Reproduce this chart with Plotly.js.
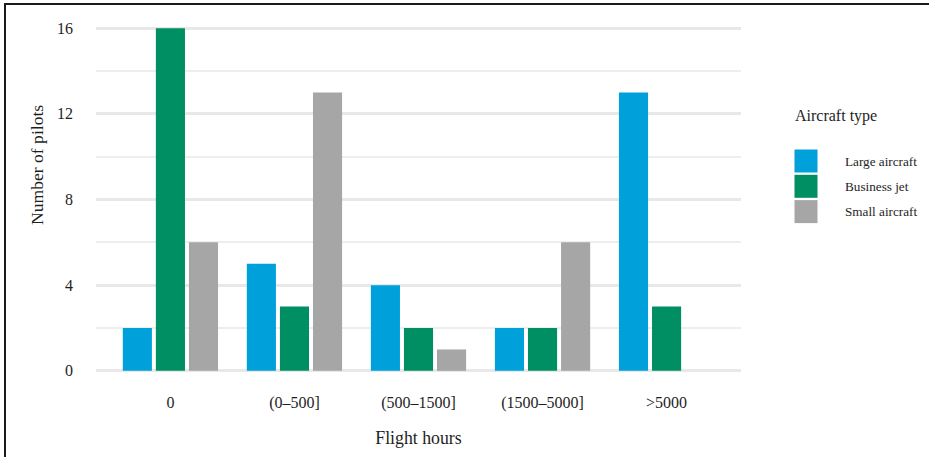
<!DOCTYPE html>
<html>
<head>
<meta charset="utf-8">
<script src="https://cdn.plot.ly/plotly-3.0.1.min.js"></script>
<style>
html,body{margin:0;padding:0;background:#fff;}
#wrap{position:relative;width:929px;height:457px;}
#chart{width:929px;height:457px;}
#frame{position:absolute;left:4px;top:3px;width:925px;height:454px;border-left:2px solid #1a1a1a;border-top:2px solid #1a1a1a;pointer-events:none;}
</style>
</head>
<body>
<div id="wrap"><div id="chart"></div><div id="frame"></div></div>
<script>
const categories = ["0", "(0\u2013500]", "(500\u20131500]", "(1500\u20135000]", ">5000"];
const seriesNames = ["Large aircraft", "Business jet", "Small aircraft"];
const largeAircraft = [2, 5, 4, 2, 13];
const businessJet = [16, 3, 2, 2, 3];
const smallAircraft = [6, 13, 1, 6, 0];
const seriesColors = ["#00A0DB", "#008F63", "#A6A6A6"];
const yTicks = [0, 4, 8, 12, 16];
const legendTitle = "Aircraft type";

const FONT = "Liberation Serif, Times New Roman, serif";
const TXT = "#1e1e1e";
const values = [largeAircraft, businessJet, smallAircraft];

const traces = values.map((v, i) => ({
  type: "bar",
  name: seriesNames[i],
  x: categories,
  y: v,
  marker: {color: seriesColors[i], line: {width: 0}},
  showlegend: false,
  hoverinfo: "x+y+name"
}));

// plot-area geometry (pixels) used to place the hand-drawn legend key
const L = 96, T = 11, W = 645, H = 377;
const px2x = p => (p - L) / W;
const px2y = p => (T + H - p) / H;

const shapes = [];
const annotations = [{
  text: "Number of pilots",
  xref: "paper", yref: "paper",
  x: px2x(37), y: px2y(165), xanchor: "center", yanchor: "middle",
  textangle: -90, showarrow: false,
  font: {family: FONT, size: 17.6, color: TXT}
}, {
  text: legendTitle,
  xref: "paper", yref: "paper",
  x: px2x(793), y: px2y(116), xanchor: "left", yanchor: "middle",
  showarrow: false,
  font: {family: FONT, size: 16, color: TXT}
}];

seriesNames.forEach((name, i) => {
  const top = 149.5 + 25.3 * i;
  shapes.push({
    type: "rect", xref: "paper", yref: "paper",
    x0: px2x(794.5), x1: px2x(817.5), y0: px2y(top + 23), y1: px2y(top),
    fillcolor: seriesColors[i], line: {width: 0}
  });
  annotations.push({
    text: name, xref: "paper", yref: "paper",
    x: px2x(843), y: px2y(top + 11.5), xanchor: "left", yanchor: "middle",
    showarrow: false,
    font: {family: FONT, size: 13.2, color: TXT}
  });
});

const layout = {
  width: 929, height: 457,
  margin: {l: L, r: 929 - L - W, t: T, b: 457 - T - H},
  paper_bgcolor: "#fff", plot_bgcolor: "#fff",
  font: {family: FONT, color: TXT, size: 16},
  barmode: "group",
  bargap: 0.2,
  bargroupgap: 0.12,
  showlegend: false,
  xaxis: {
    type: "category",
    range: [-0.6, 4.6],
    showgrid: false, zeroline: false, showline: false,
    ticks: "",
    ticklabelstandoff: 3,
    tickfont: {family: FONT, size: 16, color: TXT},
    title: {text: "Flight hours", font: {family: FONT, size: 17.8, color: TXT}, standoff: 20},
    automargin: false
  },
  yaxis: {
    range: [-0.8, 16.8],
    tickmode: "array", tickvals: yTicks, ticktext: yTicks.map(String),
    showgrid: true, gridcolor: "#E8E8E8", gridwidth: 3,
    zeroline: false, showline: false,
    ticks: "",
    ticklabelstandoff: 22,
    tickfont: {family: FONT, size: 16, color: TXT},
    minor: {tickmode: "linear", tick0: 2, dtick: 4, showgrid: true, gridcolor: "#EEEEEE", gridwidth: 2, ticks: ""},
    automargin: false
  },
  shapes: shapes,
  annotations: annotations
};

Plotly.newPlot("chart", traces, layout, {displayModeBar: false, staticPlot: true});
</script>
</body>
</html>
